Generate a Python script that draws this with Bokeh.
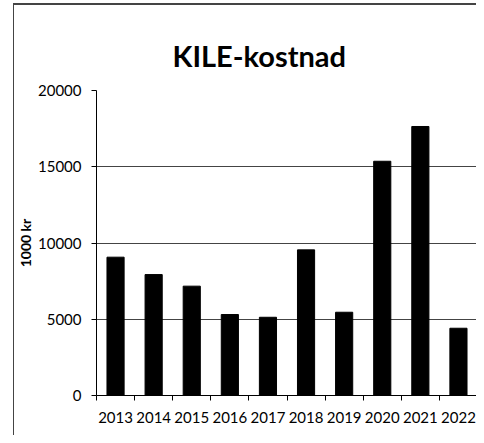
from bokeh.plotting import figure
from bokeh.models import Range1d, FixedTicker, ColumnDataSource
from bokeh.embed import file_html
from bokeh.resources import INLINE

years = ["2013", "2014", "2015", "2016", "2017", "2018", "2019", "2020", "2021", "2022"]
cost = [9070, 7930, 7170, 5310, 5130, 9550, 5460, 15360, 17640, 4410]
y_ticks = [0, 5000, 10000, 15000, 20000]

xs = list(range(len(years)))
src = ColumnDataSource(dict(x=xs, top=cost))

p = figure(width=463, height=432, output_backend="svg", toolbar_location=None,
           x_range=Range1d(-0.5, len(years) - 0.5), y_range=Range1d(0, 20000),
           min_border_left=79, min_border_right=0, min_border_top=85, min_border_bottom=42)

p.title.text = "KILE-kostnad"
p.title.align = "left"
p.title.offset = 76
p.title.vertical_align = "top"
p.title.text_font = "Lato"
p.title.text_font_size = "29px"
p.title.text_font_style = "bold"
p.title.text_color = "black"
p.title.standoff = 31

p.vbar(x="x", top="top", width=0.45, source=src, fill_color="black", line_color="black")

p.outline_line_color = None
p.background_fill_color = "white"
p.border_fill_color = "white"
p.styles = {"margin-left": "13px", "margin-top": "3px",
            "border-top": "2px solid #444444", "border-left": "1px solid #444444"}

# y axis
p.yaxis.ticker = FixedTicker(ticks=y_ticks)
p.yaxis.axis_line_color = "black"
p.yaxis.major_tick_in = 0
p.yaxis.major_tick_out = 5
p.yaxis.minor_tick_line_color = None
p.yaxis.major_label_text_font = "Lato"
p.yaxis.major_label_text_font_size = "15px"
p.yaxis.major_label_text_color = "black"
p.yaxis.major_label_standoff = 10
p.yaxis.axis_label = "1000 kr"
p.yaxis.axis_label_text_font = "Lato"
p.yaxis.axis_label_text_font_style = "bold"
p.yaxis.axis_label_text_font_size = "14px"
p.yaxis.axis_label_text_color = "black"
p.yaxis.axis_label_standoff = 1

# x axis
boundaries = [i - 0.5 for i in range(len(years) + 1)]
p.xaxis.ticker = FixedTicker(ticks=xs, minor_ticks=boundaries)
p.xaxis.major_label_overrides = {i: y for i, y in enumerate(years)}
p.xaxis.axis_line_color = "black"
p.xaxis.major_tick_in = 0
p.xaxis.major_tick_out = 0
p.xaxis.minor_tick_in = 0
p.xaxis.minor_tick_out = 5
p.xaxis.minor_tick_line_color = "black"
p.xaxis.major_label_text_font = "Lato"
p.xaxis.major_label_text_font_size = "15px"
p.xaxis.major_label_text_color = "black"
p.xaxis.major_label_standoff = 11

p.xgrid.grid_line_color = None
p.ygrid.ticker = FixedTicker(ticks=y_ticks)
p.ygrid.grid_line_color = "#444444"

open("out.html", "w").write(file_html(p, INLINE))
